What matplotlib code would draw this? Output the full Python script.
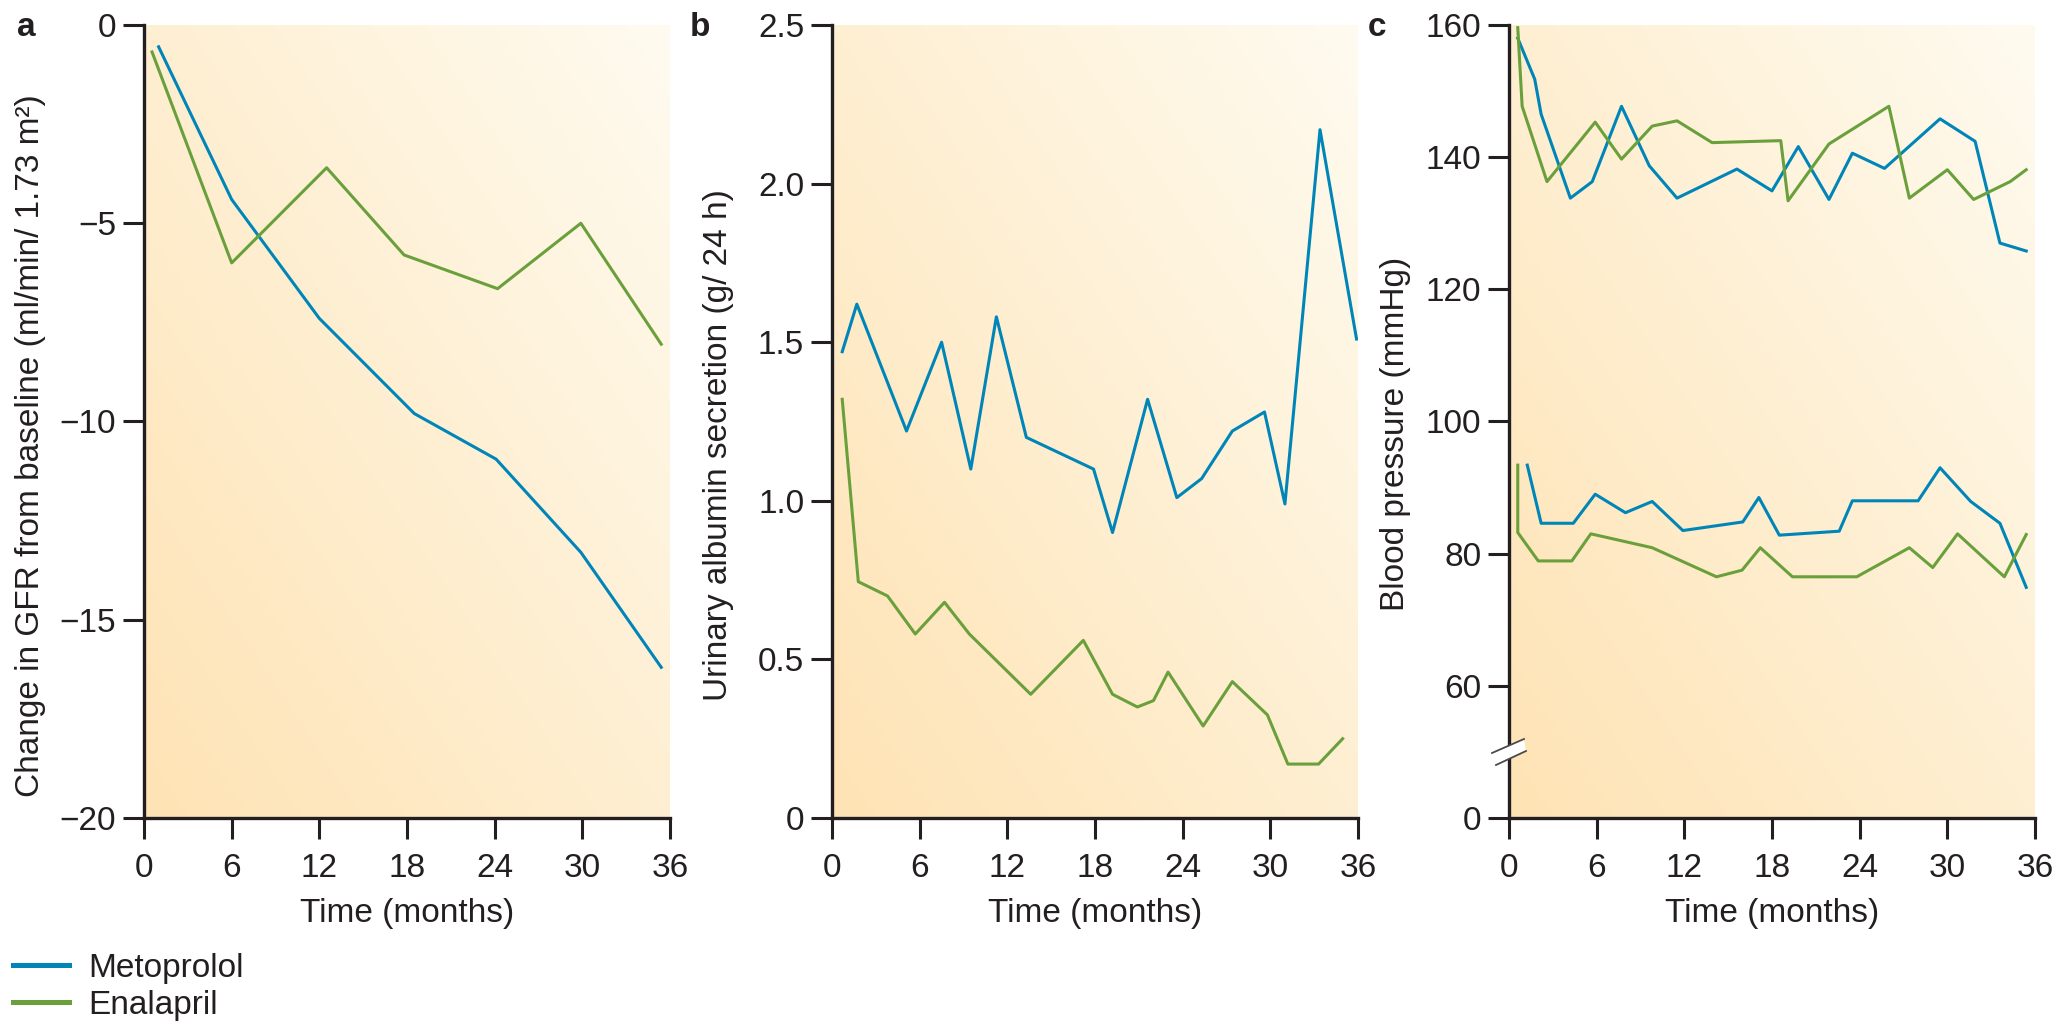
import matplotlib
matplotlib.use("Agg")
import matplotlib.pyplot as plt
import numpy as np
from matplotlib.lines import Line2D
from matplotlib.patches import Polygon

plt.rcParams['font.family'] = ['Liberation Sans', 'DejaVu Sans']

# panel a: change in GFR from baseline
gfr_met_x = [1.0, 6.0, 12.0, 18.5, 24.1, 29.9, 35.4]
gfr_met_y = [-0.55, -4.4, -7.4, -9.8, -10.95, -13.3, -16.2]
gfr_ena_x = [0.55, 6.0, 12.5, 17.8, 24.2, 29.9, 35.4]
gfr_ena_y = [-0.68, -6.0, -3.6, -5.8, -6.65, -5.0, -8.05]

# panel b: urinary albumin secretion
alb_met_x = [0.7, 1.7, 5.1, 7.5, 9.5, 11.25, 13.3, 17.9, 19.2, 21.6, 23.6,
             25.3, 27.4, 29.6, 31.0, 33.4, 35.9]
alb_met_y = [1.47, 1.62, 1.22, 1.50, 1.10, 1.58, 1.20, 1.10, 0.90, 1.32, 1.01,
             1.07, 1.22, 1.28, 0.99, 2.17, 1.51]
alb_ena_x = [0.7, 1.8, 3.8, 5.7, 7.7, 9.4, 13.6, 17.2, 19.2, 20.9, 22.0,
             23.0, 25.4, 27.4, 29.8, 31.2, 33.3, 34.95]
alb_ena_y = [1.32, 0.745, 0.70, 0.58, 0.68, 0.58, 0.39, 0.56, 0.39, 0.35, 0.37,
             0.46, 0.29, 0.43, 0.325, 0.17, 0.17, 0.25]

# panel c: blood pressure (systolic and diastolic)
sys_met_x = [0.6, 1.76, 2.2, 4.2, 5.7, 7.7, 9.6, 11.5, 15.6, 18.0, 19.8, 21.9,
             23.5, 25.7, 29.5, 31.9, 33.6, 35.4]
sys_met_y = [158, 151.8, 146.5, 133.8, 136.3, 147.7, 138.7, 133.8, 138.2, 134.9,
             141.6, 133.6, 140.6, 138.3, 145.8, 142.4, 127.0, 125.8]
sys_ena_x = [0.6, 0.9, 2.6, 5.9, 7.7, 9.8, 11.5, 13.9, 18.6, 19.1, 21.9, 26.0,
             27.4, 30.0, 31.8, 34.3, 35.4]
sys_ena_y = [159.6, 147.7, 136.3, 145.3, 139.7, 144.7, 145.5, 142.2, 142.5, 133.4,
             142.0, 147.7, 133.8, 138.1, 133.6, 136.3, 138.1]
dia_met_x = [1.25, 2.2, 4.4, 5.9, 7.97, 9.8, 11.9, 16.0, 17.1, 18.5, 22.6, 23.5,
             28.0, 29.5, 31.6, 33.6, 35.4]
dia_met_y = [93.4, 84.6, 84.6, 89.0, 86.2, 87.9, 83.5, 84.8, 88.5, 82.8, 83.4,
             88.0, 88.0, 93.0, 87.9, 84.6, 74.9]
dia_ena_x = [0.6, 0.6, 2.0, 4.3, 5.6, 9.8, 14.2, 15.95, 17.2, 19.4, 23.8, 27.4,
             29.0, 30.7, 33.9, 35.4]
dia_ena_y = [93.4, 83.2, 78.9, 78.9, 83.0, 80.9, 76.5, 77.5, 80.9, 76.5, 76.5,
             80.9, 77.9, 83.0, 76.5, 82.9]

xticks = [0, 6, 12, 18, 24, 30, 36]
bp_ticks = [40, 60, 80, 100, 120, 140, 160]
bp_labels = ['0', '60', '80', '100', '120', '140', '160']

blue = '#0085B8'
green = '#6AA03C'
ink = '#231F20'
fs = 24

W, H = 2061, 1021
fig = plt.figure(figsize=(W / 100, H / 100), dpi=100)

lefts = [144, 832, 1509]
ax_w = 526
top, bottom = 25, 818
axes = []
for lx in lefts:
    ax = fig.add_axes([lx / W, 1 - bottom / H, ax_w / W, (bottom - top) / H])
    axes.append(ax)

# background gradient (orange bottom-left -> pale top-right)
n = 200
gx, gy = np.meshgrid(np.linspace(0, 1, n), np.linspace(0, 1, n))
t = ((gx + gy) / 2)[..., None]
c0 = np.array([254, 227, 180]) / 255
c1 = np.array([255, 251, 240]) / 255
grad = c0 * (1 - t) + c1 * t

for ax in axes:
    ax.imshow(grad, extent=(0, 1, 0, 1), transform=ax.transAxes, origin='lower',
              aspect='auto', zorder=0)
    ax.set_xlim(0, 36)
    ax.set_xticks(xticks)
    ax.spines['top'].set_visible(False)
    ax.spines['right'].set_visible(False)
    for s in ('left', 'bottom'):
        ax.spines[s].set_linewidth(2.4)
        ax.spines[s].set_color(ink)
    ax.tick_params(direction='out', length=15, width=2.2, color=ink,
                   labelsize=fs, labelcolor=ink)
    ax.tick_params(axis='x', pad=10)
    ax.tick_params(axis='y', pad=5)
    ax.set_xlabel('Time (months)', fontsize=fs, color=ink, labelpad=10)

lw = 2.2
a, b, c = axes
a.plot(gfr_met_x, gfr_met_y, color=blue, lw=lw)
a.plot(gfr_ena_x, gfr_ena_y, color=green, lw=lw)
a.set_ylim(-20, 0)
a.set_yticks([0, -5, -10, -15, -20])
a.set_yticklabels(['0', '\u22125', '\u221210', '\u221215', '\u221220'])
a.set_ylabel('Change in GFR from baseline (ml/min/ 1.73 m\u00b2)', fontsize=fs, color=ink)

b.plot(alb_met_x, alb_met_y, color=blue, lw=lw)
b.plot(alb_ena_x, alb_ena_y, color=green, lw=lw)
b.set_ylim(0, 2.5)
b.set_yticks([0, 0.5, 1.0, 1.5, 2.0, 2.5])
b.set_yticklabels(['0', '0.5', '1.0', '1.5', '2.0', '2.5'])
b.set_ylabel('Urinary albumin secretion (g/ 24 h)', fontsize=fs, color=ink)

c.plot(sys_met_x, sys_met_y, color=blue, lw=lw)
c.plot(sys_ena_x, sys_ena_y, color=green, lw=lw)
c.plot(dia_met_x, dia_met_y, color=blue, lw=lw)
c.plot(dia_ena_x, dia_ena_y, color=green, lw=lw)
c.set_ylim(40, 160)
c.set_yticks(bp_ticks)
c.set_yticklabels(bp_labels)
c.set_ylabel('Blood pressure (mmHg)', fontsize=fs, color=ink)

for ax, ly in zip(axes, [0.47, 0.47, 0.485]):
    ax.yaxis.set_label_coords(-0.216, ly)
    ax.yaxis.label.set_va('center')

# axis break mark on panel c
px, py = 1.0 / ax_w, 1.0 / (bottom - top)
cy = (bottom - 752) / (bottom - top)
up = [(-17, -1), (15, 13)]
lo = [(-13, -13), (17, 1)]
poly = [up[0], up[1], lo[1], lo[0]]
c.add_patch(Polygon([(x * px, cy + y * py) for x, y in poly], closed=True,
                    transform=c.transAxes, facecolor='white', edgecolor='none',
                    clip_on=False, zorder=5))
for seg in (up, lo):
    c.add_line(Line2D([seg[0][0] * px, seg[1][0] * px],
                      [cy + seg[0][1] * py, cy + seg[1][1] * py],
                      transform=c.transAxes, color='#4a4a4a', lw=1.3,
                      clip_on=False, zorder=6))

# panel letters
for letter, lx in zip('abc', [17, 690, 1368]):
    fig.text(lx / W, 1 - 36 / H, letter, fontsize=fs, fontweight='bold',
             color=ink, ha='left', va='baseline')

handles = [Line2D([], [], color=blue, lw=3.6), Line2D([], [], color=green, lw=3.6)]
fig.legend(handles, ['Metoprolol', 'Enalapril'], loc='upper left',
           bbox_to_anchor=(13 / W, 1 - 953 / H), frameon=False, fontsize=fs,
           handlelength=1.68, handletextpad=0.57, labelspacing=0.17,
           borderpad=0, borderaxespad=0, labelcolor=ink)

fig.savefig('out.png', dpi=100)
